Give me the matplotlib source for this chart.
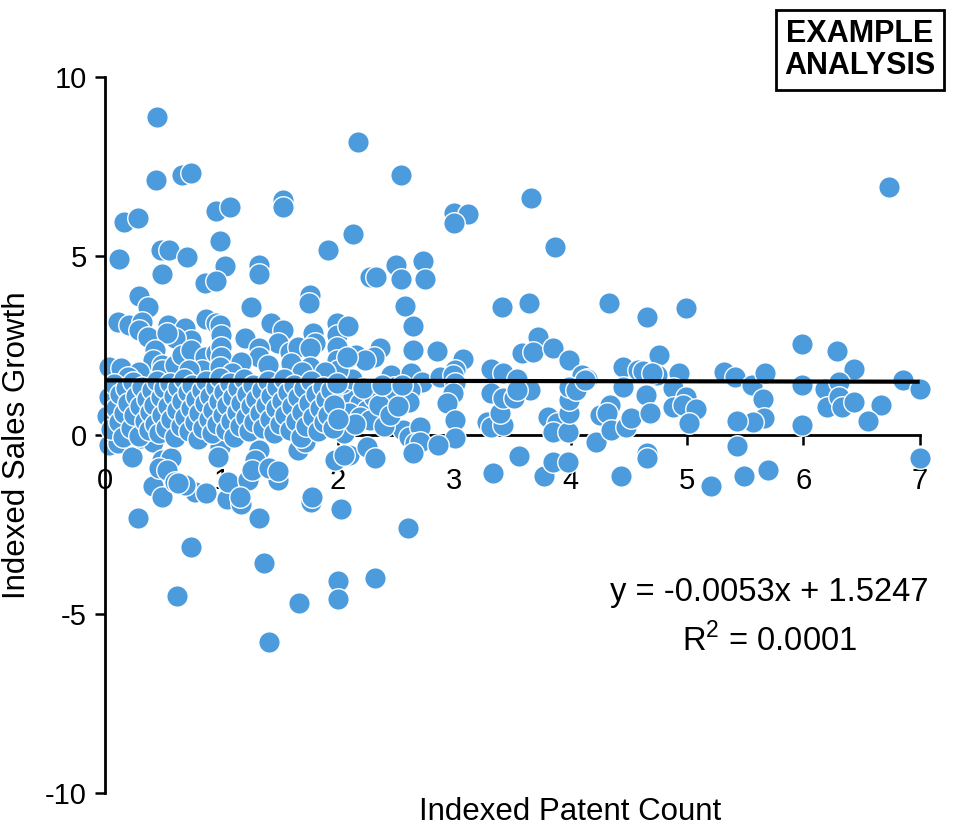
import numpy as np
import matplotlib
matplotlib.use('Agg')
import matplotlib.pyplot as plt

plt.rcParams['font.family'] = ['Liberation Sans', 'DejaVu Sans']
plt.rcParams['axes.unicode_minus'] = False
plt.rcParams['mathtext.fontset'] = 'custom'
plt.rcParams['mathtext.rm'] = 'Liberation Sans'

# scatter points (x = indexed patent count, y = indexed sales growth)
# outliers above the band
upper_x = [0.45, 2.17, 0.44, 0.66, 0.74, 0.95, 1.07, 1.53, 1.53, 0.16, 0.28, 0.99, 0.12, 0.48,
           0.55, 0.70, 1.03, 1.32, 1.32, 0.49, 1.92, 2.13, 0.86, 0.95, 2.28, 1.76, 1.75, 2.54,
           3.66, 3.00, 3.12, 3.00, 3.87, 2.50, 2.73, 2.33, 2.54, 2.75, 2.58, 3.41, 3.64, 4.33,
           4.66, 4.99, 2.65, 2.02, 6.74]
upper_y = [8.89, 8.19, 7.12, 7.26, 7.33, 6.26, 6.38, 6.56, 6.36, 5.94, 6.06, 5.43, 4.92, 5.17,
           5.17, 4.98, 4.73, 4.75, 4.50, 4.50, 5.17, 5.61, 4.24, 4.30, 4.42, 3.91, 3.68, 7.25,
           6.62, 6.19, 6.18, 5.93, 5.24, 4.75, 4.86, 4.42, 4.36, 4.36, 3.61, 3.57, 3.68, 3.68,
           3.29, 3.54, 3.05, 3.10, 6.93]

# points from x=2 to x=7
right_x = [2.65, 2.85, 2.36, 2.31, 2.16, 2.23, 3.08, 3.01, 3.72, 3.58, 3.68, 3.85, 3.99, 4.10,
           4.14, 3.32, 3.42, 3.54, 3.65, 4.45, 4.58, 2.46, 2.48, 2.42, 2.63, 2.72, 2.62, 2.61,
           2.88, 2.99, 3.01, 2.99, 2.94, 3.01, 3.01, 2.56, 2.61, 2.71, 2.66, 2.71, 2.65, 2.86,
           3.28, 3.32, 3.42, 3.39, 3.32, 3.42, 3.51, 3.54, 3.33, 3.56, 3.77, 3.85, 3.98, 3.81,
           3.88, 3.85, 3.98, 3.99, 3.99, 3.99, 4.05, 4.22, 4.25, 4.34, 4.31, 4.35, 4.48, 4.52,
           4.43, 2.10, 2.25, 2.32, 2.05, 2.08, 2.13, 2.19, 2.25, 2.31, 2.10, 2.19, 2.28,
           5.99, 6.29, 4.76, 4.62, 4.74, 4.70, 4.93, 6.44, 5.32, 5.41, 5.56, 5.67, 5.99,
           6.19, 6.31, 6.86, 7.00, 4.45, 4.12, 4.65, 4.88, 4.99, 4.88, 4.97, 5.08, 4.68, 5.02,
           5.65, 5.66, 5.57, 5.43, 5.99, 6.20, 6.31, 6.33, 6.44, 6.67, 6.56, 5.43, 4.66, 4.66,
           5.21, 5.49, 5.70, 7.00, 2.04, 2.12, 2.15, 2.22, 2.35, 2.38, 2.40, 2.45, 2.52, 2.55]
right_y = [2.37, 2.35, 2.42, 2.19, 2.23, 2.09, 2.11, 1.82, 2.73, 2.28, 2.33, 2.42, 2.09, 1.68,
           1.56, 1.84, 1.72, 1.56, 1.26, 1.91, 1.82, 1.68, 1.35, 1.16, 1.72, 1.49, 1.26, 0.93,
           1.63, 1.68, 1.44, 1.16, 0.88, 0.42, -0.09, 0.14, -0.05, 0.23, -0.23, -0.19, -0.51, -0.28,
           0.37, 0.23, 0.28, 0.61, 1.16, 1.03, 1.03, 1.26, -1.05, -0.59, -1.16, -0.75, -0.75, 0.51,
           0.33, 0.09, 0.09, 0.61, 0.98, 1.35, 1.26, -0.19, 0.56, 0.84, 0.61, 0.14, 0.23, 0.47,
           -1.15, -0.56, -0.33, -0.65, 0.05, 1.26, 1.07, 0.88, 0.70, 1.07, 0.61, 0.51, 0.42,
           2.53, 2.35, 2.23, 1.80, 1.68, 1.72, 1.74, 1.84, 1.77, 1.61, 1.40, 1.74, 1.40,
           1.28, 1.49, 1.54, 1.28, 1.33, 1.54, 1.12, 1.30, 1.07, 0.79, 0.84, 0.72, 0.61, 0.33,
           1.00, 0.47, 0.37, 0.40, 0.28, 0.79, 1.07, 0.79, 0.91, 0.84, 0.40, -0.30, -0.51, -0.65,
           -1.42, -1.16, -0.98, -0.65, 1.45, 1.55, 0.30, 1.30, 0.85, 1.40, 0.25, 0.55, 0.80, 1.40]

# outliers below the band
lower_x = [0.28, 0.41, 0.49, 0.74, 0.62, 0.77, 0.87, 0.69, 1.05, 1.17, 1.32, 1.37, 1.41, 1.67,
           1.77, 2.03, 2.00, 2.00, 1.06, 1.23, 1.49, 2.32, 2.60, 0.03, 0.11, 0.23, 0.31, 0.41,
           0.49, 0.57, 0.46, 0.53, 0.60, 0.63, 1.30, 1.32, 1.29, 1.26, 1.41, 1.49, 1.66, 1.72,
           1.16, 1.78, 1.98, 2.05, 0.99, 0.97]
lower_y = [-2.31, -1.42, -1.74, -3.12, -4.51, -1.58, -1.61, -1.40, -1.80, -1.94, -2.31, -3.57,
           -5.77, -4.70, -1.87, -2.06, -4.07, -4.57, -1.30, -1.26, -1.26, -4.00, -2.60, -0.28,
           -0.23, -0.61, -0.09, -0.19, -0.70, -0.65, -0.93, -0.98, -1.30, -1.35, 0.05, -0.42,
           -0.70, -0.98, -0.93, -1.02, -0.42, -0.19, -1.72, -1.72, -0.70, -0.56, -0.33, -0.61]

# upper-left group, just above the trend line
upleft_x = [0.29, 0.37, 0.11, 0.21, 0.32, 0.29, 0.37, 0.54, 0.69, 0.74, 0.60, 0.53, 0.43, 0.41,
            0.49, 0.87, 0.95, 1.00, 0.03, 0.14, 0.29, 0.20, 0.49, 0.60, 0.66, 0.74, 0.86, 0.95,
            1.00, 0.83, 0.72, 1.25, 0.99, 1.00, 1.00, 1.00, 0.99, 1.43, 1.53, 1.49, 1.59, 1.66,
            1.79, 1.80, 1.76, 1.99, 1.99, 1.99, 1.99, 2.00, 1.20, 1.32, 1.32, 1.17, 1.40, 1.60,
            1.76, 1.69, 1.89, 1.09, 2.09, 2.08]
upleft_y = [3.88, 3.58, 3.16, 3.07, 3.16, 2.93, 2.75, 3.07, 2.98, 2.65, 2.70, 2.84, 2.37, 2.09,
            1.96, 3.23, 3.12, 2.75, 1.91, 1.86, 1.77, 1.63, 1.82, 1.96, 2.23, 2.37, 2.19, 2.28,
            2.00, 1.82, 1.82, 3.58, 3.07, 2.79, 2.47, 2.19, 1.91, 3.12, 2.93, 2.56, 2.33, 2.47,
            2.84, 2.56, 2.42, 3.12, 2.79, 2.47, 2.09, 1.82, 2.70, 2.42, 2.19, 2.05, 1.96, 2.00,
            1.91, 1.77, 1.77, 1.72, 3.03, 2.19]

# dense band between x=0 and x=2
band_x = [0.02, 0.03, 0.05, 0.08, 0.09, 0.12, 0.13, 0.15, 0.16, 0.18,
          0.20, 0.22, 0.24, 0.25, 0.27, 0.29, 0.30, 0.32, 0.34, 0.36, 0.38, 0.39, 0.40,
          0.42, 0.43, 0.45, 0.46, 0.48, 0.49, 0.51, 0.52, 0.54, 0.56, 0.57, 0.59, 0.60,
          0.62, 0.63, 0.65, 0.66, 0.68, 0.69, 0.71, 0.72, 0.74, 0.75, 0.77, 0.78, 0.80,
          0.81, 0.83, 0.84, 0.86, 0.87, 0.89, 0.90, 0.92, 0.93, 0.95, 0.96, 0.98, 0.99,
          1.01, 1.02, 1.04, 1.05, 1.07, 1.08, 1.10, 1.11, 1.13, 1.14, 1.16, 1.17, 1.19,
          1.21, 1.22, 1.24, 1.25, 1.27, 1.28, 1.30, 1.33, 1.35, 1.36, 1.38, 1.40,
          1.42, 1.43, 1.45, 1.47, 1.48, 1.50, 1.52, 1.54, 1.55, 1.57, 1.59,
          1.61, 1.62, 1.64, 1.66, 1.68, 1.69, 1.71, 1.73, 1.75, 1.77, 1.79,
          1.81, 1.83, 1.85, 1.87, 1.88, 1.90, 1.92, 1.94, 1.96, 1.97, 1.99, 2.00]
band_y = [0.52, 1.05, 0.18, 1.42, 0.75, 0.35, 1.15, -0.05, 0.62, 1.30,
          0.90, 0.20, 1.48, 0.55, 1.10, -0.02, 0.80, 1.35, 0.40, 1.00, 0.15, 0.65, 1.25,
          0.85, 0.30, 1.50, 0.05, 1.05, 0.55, 1.30, 0.20, 0.80, 1.45, 0.45, 1.10, -0.05,
          0.70, 1.35, 0.25, 0.95, 1.55, 0.50, 1.20, 0.10, 0.75, 1.40, 0.35, 1.00, -0.10,
          0.60, 1.25, 0.20, 0.90, 1.50, 0.45, 1.10, 0.05, 0.70, 1.35, 0.30, 0.95, 1.60,
          0.55, 1.20, 0.15, 0.85, 1.45, 0.40, 1.05, -0.05, 0.65, 1.30, 0.25, 0.90, 1.55,
          0.50, 1.15, 0.10, 0.80, 1.40, 0.35, 1.00, 0.60, 1.25, 0.20, 0.85, 1.50,
          0.45, 1.10, 0.05, 0.75, 1.35, 0.30, 0.95, 1.55, 0.55, 1.20, 0.15,
          0.80, 1.40, 0.40, 1.05, -0.05, 0.65, 1.30, 0.25, 0.90, 1.50, 0.50,
          1.15, 0.10, 0.75, 1.35, 0.35, 1.00, 0.55, 1.25, 0.20, 0.85, 1.45, 0.45]

# trend line as printed on the chart
slope = -0.0053
intercept = 1.5247
x_ticks = [0, 1, 2, 3, 4, 5, 6, 7]
y_ticks = [-10, -5, 0, 5, 10]

patent = np.array(upper_x + right_x + lower_x + upleft_x + band_x)
growth = np.array(upper_y + right_y + lower_y + upleft_y + band_y)

fig = plt.figure(figsize=(9.55, 8.3), dpi=100)
ax = fig.add_axes([0.110, 0.0446, 0.853, 0.8627])

ax.scatter(patent, growth, s=240, c='#4C9BDC', edgecolors='white', linewidths=1.0,
           zorder=2, clip_on=False)

xs = np.array([0, 7])
ax.plot(xs, slope * xs + intercept, color='black', lw=3, zorder=3, solid_capstyle='butt')

ax.set_xlim(0, 7)
ax.set_ylim(-10, 10)
ax.spines['top'].set_visible(False)
ax.spines['right'].set_visible(False)
ax.spines['bottom'].set_position(('data', 0))
ax.spines['bottom'].set_zorder(1)
ax.spines['bottom'].set_linewidth(2)
ax.spines['left'].set_linewidth(2)

ax.set_xticks(x_ticks)
ax.set_yticks(y_ticks)
ax.tick_params(axis='x', direction='out', length=7, width=1.8, pad=16, labelsize=21)
ax.tick_params(axis='y', direction='out', length=7, width=1.8, pad=6, labelsize=21)

ax.set_xlabel('Indexed Patent Count', fontsize=22.5)
ax.set_ylabel('Indexed Sales Growth', fontsize=22.5)
ax.xaxis.set_label_coords(0.571, -0.006)
ax.yaxis.set_label_coords(-0.09, 0.486)

ax.text(5.71, -4.39, 'y = -0.0053x + 1.5247', fontsize=23.5, ha='center', va='center')
ax.text(5.71, -5.73, 'R$^2$ = 0.0001', fontsize=23.5, ha='center', va='center')

fig.text(0.9005, 0.94, 'EXAMPLE\nANALYSIS', fontsize=22, fontweight='bold', ha='center',
         va='center', linespacing=1.1,
         bbox=dict(boxstyle='square,pad=0.28', facecolor='white', edgecolor='black', lw=2))

fig.savefig('out.png', dpi=100)
